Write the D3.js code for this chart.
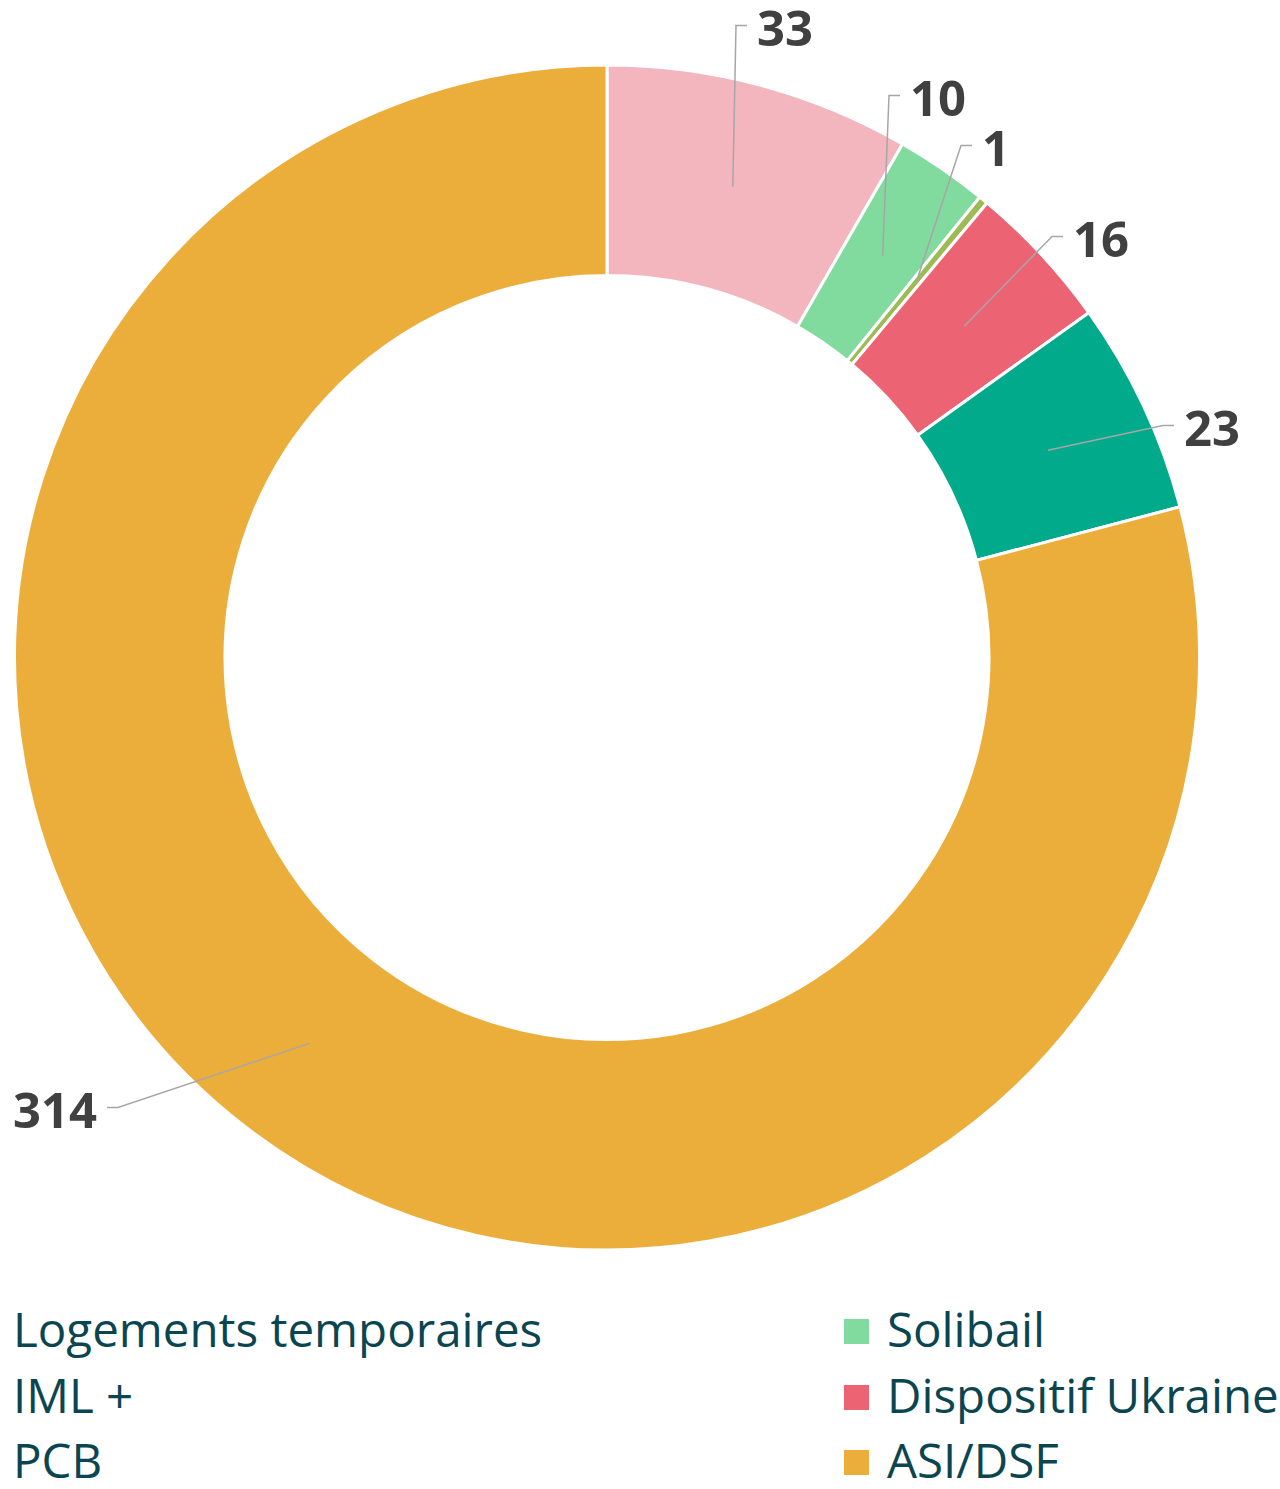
<!DOCTYPE html>
<html>
<head>
<meta charset="utf-8">
<script src="https://cdn.jsdelivr.net/npm/d3@7"></script>
<style>
  html, body { margin: 0; padding: 0; background: #ffffff; }
  svg { display: block; }
</style>
</head>
<body>
<div id="vis"></div>
<script>
// data
var categories = ["Logements temporaires", "Solibail", "IML +", "Dispositif Ukraine", "PCB", "ASI/DSF"];
var values = [33, 10, 1, 16, 23, 314];
var colours = ["#F4B6BE", "#82DB9E", "#9DBB55", "#EC6474", "#00AA8A", "#EBAE3B"];

// where each value label sits (elbow of the leader line), relative to the centre
var labelOffsets = [[129, -632], [282, -562], [354, -512], [445, -421], [556, -232], [-489, 450]];

var width = 1280, height = 1489;
var cx = 607, cy = 657.5;
var outerR = 592.5, innerR = 382;

var svg = d3.select("#vis").append("svg")
    .attr("width", width)
    .attr("height", height);

var g = svg.append("g").attr("transform", "translate(" + cx + "," + cy + ")");

var pie = d3.pie().sort(null).value(function(d){ return d; });
var arcs = pie(values);
var arc = d3.arc().innerRadius(innerR).outerRadius(outerR);
var colour = d3.scaleOrdinal().domain(categories).range(colours);

g.selectAll(".slice")
    .data(arcs)
    .enter()
    .append("path")
    .attr("class", "slice")
    .attr("d", arc)
    .attr("fill", function(d, i){ return colour(categories[i]); })
    .attr("stroke", "#ffffff")
    .attr("stroke-width", 3)
    .attr("stroke-linejoin", "miter");

// leader lines + labels
var labels = g.selectAll(".lbl")
    .data(arcs)
    .enter()
    .append("g")
    .attr("class", "lbl");

labels.append("polyline")
    .attr("fill", "none")
    .attr("stroke", "#A6A6A6")
    .attr("stroke-width", 1.5)
    .attr("points", function(d, i){
        var c = arc.centroid(d);
        var e = labelOffsets[i];
        var dir = e[0] < 0 ? -1 : 1;
        return [c, e, [e[0] + dir * 11, e[1]]].map(function(p){ return p.join(","); }).join(" ");
    });

labels.append("text")
    .attr("x", function(d, i){ var e = labelOffsets[i]; return e[0] < 0 ? e[0] - 21 : e[0] + 21; })
    .attr("y", function(d, i){ return labelOffsets[i][1] + 20; })
    .attr("text-anchor", function(d, i){ return labelOffsets[i][0] < 0 ? "end" : "start"; })
    .attr("font-family", "'Open Sans', sans-serif")
    .attr("font-weight", "bold")
    .attr("font-size", 49)
    .attr("fill", "#404040")
    .text(function(d){ return d.value; });

// legend, row-major over two columns (left column swatches fall off the page)
var legendCols = [13, 887];
var legendRows = [1347, 1413, 1478];
var legend = svg.selectAll(".legend")
    .data(categories)
    .enter()
    .append("g")
    .attr("class", "legend")
    .attr("transform", function(d, i){
        return "translate(" + legendCols[i % 2] + "," + legendRows[Math.floor(i / 2)] + ")";
    });

legend.append("rect")
    .attr("x", -43)
    .attr("y", -28)
    .attr("width", 25)
    .attr("height", 25)
    .attr("fill", function(d){ return colour(d); });

legend.append("text")
    .attr("x", 0)
    .attr("y", 0)
    .attr("font-family", "'Open Sans', sans-serif")
    .attr("font-size", 47.5)
    .attr("fill", "#0B4650")
    .text(function(d){ return d; });
</script>
</body>
</html>
